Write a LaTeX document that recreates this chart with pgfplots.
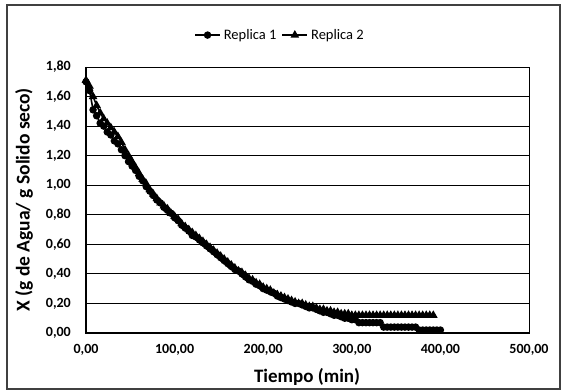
\documentclass[border=0pt]{standalone}
\usepackage{fontspec}
\setmainfont{Carlito}
\usepackage{pgfplots}
\pgfplotsset{compat=1.18}
\begin{document}
\begin{tikzpicture}
\useasboundingbox (-86bp,-58bp) rectangle (478bp,333bp);
\draw[black!75, line width=1.3bp] (-79bp,-56bp) rectangle (474bp,328bp);
\begin{axis}[
  at={(0,0)}, anchor=origin,
  scale only axis, width=443bp, height=266bp,
  xmin=0, xmax=500, ymin=0, ymax=1.8,
  xtick={0,100,200,300,400,500},
  ytick={0,0.2,0.4,0.6,0.8,1.0,1.2,1.4,1.6,1.8},
  major tick length=0pt,
  ymajorgrids, grid style={black, line width=0.9bp},
  axis line style={black, line width=0.9bp},
  /pgf/number format/.cd, fixed, fixed zerofill, precision=2, use comma, 1000 sep={}, assume math mode=true,
  /pgfplots/.cd,
  ticklabel style={font=\fontsize{14bp}{17bp}\selectfont\bfseries},
  xticklabel style={anchor=center, inner sep=0pt, yshift=-17bp},
  yticklabel style={anchor=east, inner sep=0pt, xshift=-15bp},
  xlabel={Tiempo (min)},
  ylabel={X (g de Agua/ g Solido seco)},
  every axis x label/.style={at={(axis description cs:0.499,-0.165)}, anchor=center,
    font=\fontsize{19bp}{22bp}\selectfont\bfseries},
  every axis y label/.style={at={(axis description cs:-0.14,0.5)}, rotate=90, anchor=center,
    font=\fontsize{19.5bp}{22bp}\selectfont\bfseries},
  legend columns=2,
  legend style={at={(axis description cs:0.438,1.12)}, anchor=center, draw=none, fill=none,
    font=\fontsize{14.5bp}{18bp}\selectfont, column sep=1bp,
    /tikz/every even column/.append style={column sep=3bp}},
  legend image code/.code={
    \draw[#1, mark repeat=2, mark phase=2] plot coordinates {(0bp,0bp) (12.5bp,0bp) (25bp,0bp)};},
  clip=false,
]
\addplot[black, line width=1.6bp, mark=*, mark size=2.9bp, mark options={solid}] coordinates {
(0,1.70)(4,1.64)(8,1.51)(12,1.47)(16,1.42)(20,1.40)(24,1.36)(28,1.34)(32,1.30)(36,1.28)
(40,1.24)(44,1.20)(48,1.16)(52,1.13)(56,1.10)(60,1.06)(64,1.03)(68,0.99)(72,0.96)(76,0.93)
(80,0.90)(84,0.88)(88,0.85)(92,0.83)(96,0.81)(100,0.78)(104,0.76)(108,0.73)(112,0.71)(116,0.69)
(120,0.66)(124,0.65)(128,0.63)(132,0.61)(136,0.59)(140,0.57)(144,0.55)(148,0.53)(152,0.51)(156,0.49)
(160,0.47)(164,0.45)(168,0.43)(172,0.42)(176,0.40)(180,0.38)(184,0.36)(188,0.35)(192,0.33)(196,0.32)
(200,0.30)(204,0.29)(208,0.28)(212,0.27)(216,0.25)(220,0.24)(224,0.23)(228,0.22)(232,0.21)(236,0.20)
(240,0.20)(244,0.19)(248,0.18)(252,0.17)(256,0.17)(260,0.16)(264,0.15)(268,0.14)(272,0.14)(276,0.13)
(280,0.12)(284,0.12)(288,0.11)(292,0.10)(296,0.10)(300,0.09)(304,0.09)(308,0.07)(312,0.07)(316,0.07)
(320,0.07)(324,0.07)(328,0.07)(332,0.07)(336,0.04)(340,0.04)(344,0.04)(348,0.04)(352,0.04)(356,0.04)
(360,0.04)(364,0.04)(368,0.04)(372,0.04)(376,0.02)(380,0.02)(384,0.02)(388,0.02)(392,0.02)(396,0.02)
(400,0.02)
};
\addlegendentry{Replica 1}
\addplot[black, line width=1.6bp, mark=triangle*, mark size=3.4bp, mark options={solid}] coordinates {
(0,1.71)(4,1.67)(8,1.60)(12,1.54)(16,1.49)(20,1.45)(24,1.42)(28,1.39)(32,1.36)(36,1.33)
(40,1.29)(44,1.24)(48,1.20)(52,1.16)(56,1.12)(60,1.08)(64,1.04)(68,1.01)(72,0.97)(76,0.94)
(80,0.91)(84,0.88)(88,0.86)(92,0.84)(96,0.81)(100,0.79)(104,0.77)(108,0.74)(112,0.72)(116,0.70)
(120,0.68)(124,0.66)(128,0.64)(132,0.62)(136,0.60)(140,0.58)(144,0.56)(148,0.54)(152,0.52)(156,0.50)
(160,0.48)(164,0.46)(168,0.44)(172,0.42)(176,0.41)(180,0.39)(184,0.37)(188,0.36)(192,0.34)(196,0.33)
(200,0.31)(204,0.30)(208,0.29)(212,0.27)(216,0.26)(220,0.25)(224,0.24)(228,0.23)(232,0.22)(236,0.21)
(240,0.20)(244,0.20)(248,0.19)(252,0.18)(256,0.18)(260,0.17)(264,0.16)(268,0.16)(272,0.15)(276,0.15)
(280,0.14)(284,0.14)(288,0.13)(292,0.13)(296,0.13)(300,0.12)(304,0.12)(308,0.12)(312,0.12)(316,0.12)
(320,0.12)(324,0.12)(328,0.12)(332,0.12)(336,0.12)(340,0.12)(344,0.12)(348,0.12)(352,0.12)(356,0.12)
(360,0.12)(364,0.12)(368,0.12)(372,0.12)(376,0.12)(380,0.12)(384,0.12)(388,0.12)(392,0.12)
};
\addlegendentry{Replica 2}
\draw[black, line width=2.2bp] (rel axis cs:0,1) -- (rel axis cs:0,0) -- (rel axis cs:1,0);
\end{axis}
\end{tikzpicture}
\end{document}
